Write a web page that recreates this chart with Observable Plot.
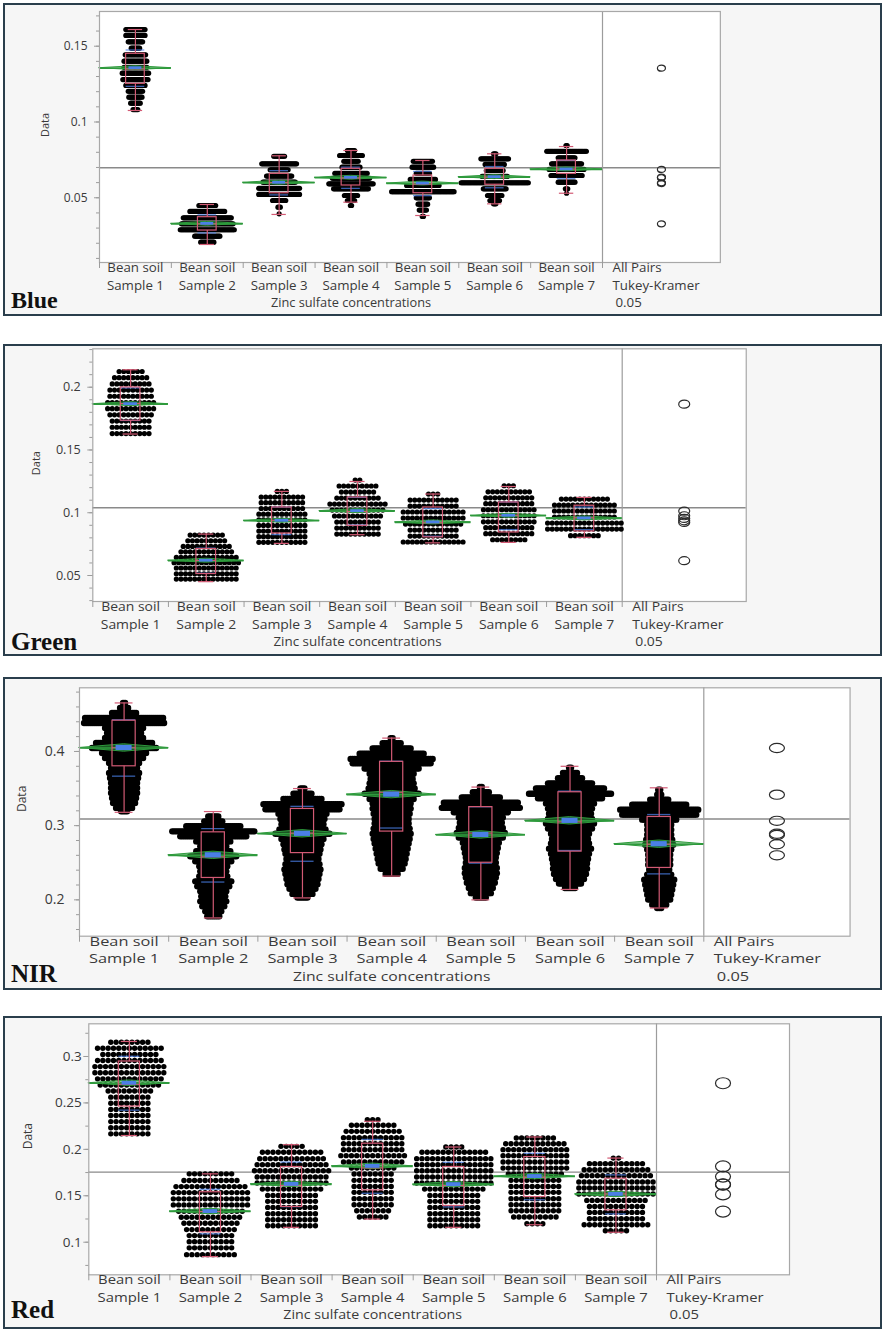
<!DOCTYPE html>
<html><head><meta charset="utf-8">
<script src="https://cdn.jsdelivr.net/npm/d3@7"></script>
<script src="https://cdn.jsdelivr.net/npm/@observablehq/plot@0.6"></script>
<style>
body{margin:0;background:#fff;}
#root{position:relative;width:886px;height:1332px;overflow:hidden;}
.panel{position:absolute;box-sizing:border-box;border:2px solid #2a3e4c;background:#f6f6f6;}
.plotbox{position:absolute;left:0;}
.tag{position:absolute;font-family:"Liberation Serif","Times New Roman",serif;font-weight:bold;color:#111;line-height:1;white-space:nowrap;}
</style></head><body><div id="root"></div>
<script>
// ---------- text ----------
const sampleLabels = ["Sample 1","Sample 2","Sample 3","Sample 4","Sample 5","Sample 6","Sample 7"];
const groupLine1 = "Bean soil";
const compLabels = ["All Pairs","Tukey-Kramer","0.05"];
const xTitle = "Zinc sulfate concentrations";
const yTitle = "Data";
const panelNames = ["Blue","Green","NIR","Red"];

// ---------- Blue ----------
const blueRows = [
 [[0.1610,17],[0.1571,17],[0.1529,13],[0.1487,8],[0.1443,18],[0.1401,20],[0.1361,20],[0.1322,23],[0.1280,22],[0.1241,17],[0.1203,13],[0.1164,12],[0.1124,9],[0.1082,5]],
 [[0.0449,15],[0.0410,30],[0.0368,41],[0.0328,44],[0.0289,46],[0.0247,22],[0.0207,12]],
 [[0.0774,10],[0.0724,30],[0.0685,16],[0.0643,22],[0.0603,28],[0.0563,35],[0.0522,35],[0.0482,12],[0.0438,3],[0.0394,1]],
 [[0.0812,7],[0.0779,20],[0.0741,13],[0.0702,16],[0.0662,28],[0.0629,32],[0.0592,38],[0.0559,30],[0.0515,12],[0.0482,7],[0.0449,2]],
 [[0.0741,17],[0.0702,19],[0.0662,12],[0.0621,22],[0.0581,28],[0.0540,53],[0.0500,12],[0.0458,9],[0.0419,7],[0.0377,2]],
 [[0.0790,3],[0.0757,24],[0.0720,17],[0.0680,15],[0.0641,22],[0.0599,57],[0.0559,20],[0.0515,13],[0.0482,9],[0.0460,3]],
 [[0.0845,2],[0.0807,34],[0.0764,15],[0.0724,26],[0.0687,30],[0.0647,27],[0.0603,15],[0.0559,3],[0.0530,1]]
];
const blueMean   = [0.1355,0.0328,0.0599,0.0632,0.0594,0.0636,0.0687];
const blueQ1     = [0.1252,0.0284,0.0530,0.0581,0.0530,0.0586,0.0658];
const blueQ3     = [0.1450,0.0372,0.0658,0.0691,0.0647,0.0691,0.0746];
const blueMedian = [0.1350,0.0328,0.0600,0.0630,0.0590,0.0636,0.0690];
const blueMin    = [0.1076,0.0192,0.0390,0.0471,0.0383,0.0460,0.0530];
const blueMax    = [0.1610,0.0456,0.0777,0.0812,0.0746,0.0790,0.0838];
const blueSD     = [0.012,0.006,0.008,0.007,0.008,0.007,0.006];
const blueCI     = [0.0013,0.0013,0.0013,0.0013,0.0013,0.0013,0.0013];
const blueGrand  = 0.0698;
const blueDomain = [0.0073,0.1729];
const blueTicks  = [0.05,0.1,0.15];
const blueMinor  = [0.01,0.02,0.03,0.04,0.05,0.06,0.07,0.08,0.09,0.1,0.11,0.12,0.13,0.14,0.15,0.16,0.17];

// ---------- Green ----------
const greenRows = [
 [[0.2125,6],[0.2076,8],[0.2026,9],[0.1977,10],[0.1928,10],[0.1878,11],[0.1829,11],[0.1780,10],[0.1730,9],[0.1681,9],[0.1631,9]],
 [[0.0822,8],[0.0777,9],[0.0732,11],[0.0689,12],[0.0644,14],[0.0602,15],[0.0560,14],[0.0514,14],[0.0472,14]],
 [[0.1170,3],[0.1125,10],[0.1080,10],[0.1034,10],[0.0989,11],[0.0944,11],[0.0899,11],[0.0854,11],[0.0809,11],[0.0764,11]],
 [[0.1260,2],[0.1213,9],[0.1165,8],[0.1117,10],[0.1069,13],[0.1021,12],[0.0974,11],[0.0926,10],[0.0878,10],[0.0830,10]],
 [[0.1149,3],[0.1101,11],[0.1053,11],[0.1006,14],[0.0958,14],[0.0910,13],[0.0862,11],[0.0814,11],[0.0767,14]],
 [[0.1215,3],[0.1167,10],[0.1119,11],[0.1072,11],[0.1024,12],[0.0976,12],[0.0928,12],[0.0881,11],[0.0833,11],[0.0785,8]],
 [[0.1109,11],[0.1061,14],[0.1014,14],[0.0966,14],[0.0918,17],[0.0870,17],[0.0817,7]]
];
const greenMean   = [0.1865,0.0618,0.0936,0.1013,0.0923,0.0976,0.0955];
const greenQ1     = [0.1733,0.0512,0.0835,0.0896,0.0804,0.0843,0.0851];
const greenQ3     = [0.1998,0.0711,0.1042,0.1122,0.1042,0.1082,0.1056];
const greenMedian = [0.1870,0.0620,0.0940,0.1010,0.0920,0.0980,0.0960];
const greenMin    = [0.1627,0.0451,0.0756,0.0825,0.0760,0.0764,0.0804];
const greenMax    = [0.2139,0.0830,0.1170,0.1249,0.1149,0.1209,0.1122];
const greenSD     = [0.013,0.010,0.011,0.011,0.011,0.011,0.009];
const greenCI     = [0.0016,0.0016,0.0016,0.0016,0.0016,0.0016,0.0016];
const greenGrand  = 0.104;
const greenDomain = [0.0293,0.2306];
const greenTicks  = [0.05,0.1,0.15,0.2];
const greenMinor  = [0.03,0.04,0.05,0.06,0.07,0.08,0.09,0.1,0.11,0.12,0.13,0.14,0.15,0.16,0.17,0.18,0.19,0.2,0.21,0.22,0.23];

// ---------- NIR ----------
const nirRows = [
 [[0.4654,2],[0.4586,5],[0.4519,13],[0.4451,40],[0.4384,41],[0.4317,20],[0.4249,18],[0.4182,20],[0.4115,29],[0.4047,33],[0.3980,23],[0.3912,20],[0.3845,16],[0.3778,14],[0.3710,16],[0.3643,15],[0.3575,14],[0.3508,14],[0.3441,14],[0.3373,13],[0.3306,12],[0.3239,9],[0.3193,4]],
 [[0.3125,6],[0.3058,10],[0.2991,28],[0.2923,42],[0.2856,34],[0.2788,18],[0.2721,14],[0.2654,18],[0.2586,24],[0.2519,19],[0.2452,15],[0.2384,14],[0.2317,15],[0.2249,19],[0.2182,17],[0.2115,14],[0.2047,13],[0.1980,14],[0.1912,12],[0.1845,9],[0.1778,7]],
 [[0.350,3],[0.343,10],[0.336,20],[0.329,40],[0.322,38],[0.316,25],[0.309,23],[0.302,22],[0.295,24],[0.289,28],[0.282,22],[0.275,20],[0.268,19],[0.262,18],[0.255,17],[0.248,18],[0.241,19],[0.235,18],[0.228,17],[0.221,16],[0.215,14],[0.208,11],[0.203,6]],
 [[0.418,2],[0.411,10],[0.404,20],[0.397,33],[0.390,42],[0.384,40],[0.377,28],[0.370,23],[0.363,22],[0.357,23],[0.350,24],[0.343,28],[0.336,23],[0.330,20],[0.323,20],[0.316,19],[0.309,18],[0.303,18],[0.296,19],[0.289,20],[0.282,19],[0.276,18],[0.269,17],[0.262,16],[0.255,15],[0.249,14],[0.242,12],[0.235,7]],
 [[0.352,2],[0.345,9],[0.338,20],[0.331,38],[0.324,40],[0.318,28],[0.311,23],[0.304,22],[0.297,23],[0.290,25],[0.284,23],[0.277,19],[0.270,18],[0.263,17],[0.257,16],[0.250,16],[0.243,17],[0.236,17],[0.230,16],[0.223,15],[0.216,13],[0.209,11],[0.203,6]],
 [[0.378,2],[0.371,8],[0.364,13],[0.357,23],[0.350,35],[0.343,42],[0.337,33],[0.330,25],[0.323,23],[0.316,22],[0.309,23],[0.303,25],[0.296,23],[0.289,20],[0.282,19],[0.276,20],[0.269,22],[0.262,20],[0.255,19],[0.249,18],[0.242,18],[0.235,17],[0.228,15],[0.222,12],[0.216,6]],
 [[0.3485,2],[0.3418,3],[0.3350,10],[0.3283,28],[0.3216,40],[0.3148,38],[0.3081,18],[0.3013,13],[0.2946,13],[0.2879,13],[0.2811,14],[0.2744,15],[0.2677,13],[0.2609,12],[0.2542,12],[0.2474,12],[0.2407,11],[0.2340,13],[0.2272,16],[0.2205,15],[0.2137,14],[0.2070,13],[0.2003,12],[0.1935,8],[0.1891,3]]
];
const nirMean   = [0.4047,0.2600,0.2890,0.3418,0.2875,0.3065,0.2750];
const nirQ1     = [0.3800,0.2295,0.2630,0.2920,0.2500,0.2650,0.2430];
const nirQ3     = [0.4415,0.2910,0.3225,0.3860,0.3250,0.3450,0.3117];
const nirMedian = [0.4050,0.2580,0.2900,0.3450,0.2900,0.3050,0.2750];
const nirMin    = [0.3180,0.1756,0.2026,0.2320,0.2000,0.2140,0.1890];
const nirMax    = [0.4654,0.3190,0.3500,0.4180,0.3520,0.3800,0.3510];
const nirSD     = [0.038,0.036,0.037,0.045,0.038,0.040,0.040];
const nirCI     = [0.005,0.005,0.005,0.005,0.005,0.005,0.005];
const nirGrand  = 0.309;
const nirDomain = [0.151,0.4858];
const nirTicks  = [0.2,0.3,0.4];
const nirMinor  = [0.16,0.18,0.2,0.22,0.24,0.26,0.28,0.3,0.32,0.34,0.36,0.38,0.4,0.42,0.44,0.46,0.48];

// ---------- Red ----------
const redRows = [
 [[0.3154,8],[0.3088,13],[0.3022,11],[0.2957,13],[0.2891,14],[0.2825,14],[0.2759,13],[0.2693,12],[0.2628,9],[0.2562,8],[0.2496,8],[0.2430,8],[0.2364,8],[0.2299,8],[0.2233,8],[0.2167,8]],
 [[0.1736,9],[0.1664,11],[0.1599,14],[0.1534,15],[0.1467,15],[0.1402,15],[0.1333,13],[0.1268,12],[0.1204,11],[0.1136,10],[0.1071,9],[0.1006,9],[0.0939,9],[0.0866,10]],
 [[0.2032,5],[0.1968,12],[0.1900,13],[0.1835,14],[0.1770,15],[0.1702,14],[0.1637,14],[0.1572,12],[0.1504,10],[0.1440,10],[0.1375,10],[0.1307,10],[0.1242,10],[0.1178,10]],
 [[0.2320,3],[0.2259,9],[0.2194,11],[0.2126,12],[0.2061,12],[0.1997,12],[0.1932,13],[0.1863,12],[0.1798,9],[0.1734,8],[0.1666,8],[0.1601,8],[0.1537,8],[0.1469,8],[0.1404,8],[0.1339,7],[0.1271,6]],
 [[0.2025,4],[0.1968,13],[0.1900,15],[0.1835,15],[0.1770,15],[0.1702,15],[0.1637,15],[0.1572,12],[0.1504,10],[0.1440,10],[0.1375,10],[0.1307,10],[0.1242,10],[0.1178,10]],
 [[0.2122,8],[0.2061,12],[0.1997,13],[0.1932,13],[0.1863,13],[0.1798,13],[0.1734,11],[0.1666,10],[0.1601,10],[0.1537,10],[0.1469,10],[0.1404,10],[0.1339,10],[0.1271,9],[0.1198,4]],
 [[0.1906,2],[0.1846,11],[0.1781,13],[0.1717,14],[0.1648,15],[0.1583,15],[0.1519,15],[0.1450,12],[0.1385,11],[0.1321,11],[0.1253,11],[0.1188,13],[0.1123,5]]
];
const redMean   = [0.2712,0.1330,0.1623,0.1817,0.1620,0.1707,0.1515];
const redQ1     = [0.2461,0.1107,0.1380,0.1558,0.1390,0.1486,0.1343];
const redQ3     = [0.2946,0.1538,0.1810,0.2061,0.1810,0.1917,0.1684];
const redMedian = [0.2700,0.1330,0.1610,0.1800,0.1610,0.1700,0.1520];
const redMin    = [0.2149,0.0845,0.1160,0.1249,0.1160,0.1188,0.1107];
const redMax    = [0.3162,0.1736,0.2050,0.2302,0.2025,0.2133,0.1906];
const redSD     = [0.029,0.024,0.024,0.029,0.024,0.025,0.021];
const redCI     = [0.003,0.003,0.003,0.003,0.003,0.003,0.003];
const redGrand  = 0.1755;
const redDomain = [0.0649,0.3352];
const redTicks  = [0.1,0.15,0.2,0.25,0.3];
const redMinor  = [0.075,0.1,0.125,0.15,0.175,0.2,0.225,0.25,0.275,0.3,0.325];

// ---------- layout / style (not data) ----------
const layouts = [
 {top:3,   height:313, left:99,   divider:602,   ft:11,     fb:262,    sx:1.04, tickFont:12,   dataX:45,   dataFont:11, gap:12, dotR:2.6, dotDx:1.2, circ:[4,3],     tagSize:24, tagTop:288},
 {top:344, height:312, left:92.3, divider:621.7, ft:348.3,  fb:601,    sx:1.09, tickFont:12.6, dataX:36,   dataFont:11, gap:12, dotR:2.6, dotDx:4.6, circ:[5.5,4],   tagSize:25, tagTop:629},
 {top:677, height:313, left:79,   divider:703.3, ft:687.3,  fb:935.7,  sx:1.28, tickFont:14,   dataX:21.7, dataFont:12, gap:15, dotR:3.2, dotDx:2.0, circ:[7.5,4.6], tagSize:25, tagTop:961},
 {top:1016,height:313, left:88.3, divider:656,   ft:1023.3, fb:1274.3, sx:1.16, tickFont:13.5, dataX:27.3, dataFont:12, gap:7,  dotR:2.7, dotDx:5.3, circ:[7.5,5.5], tagSize:25, tagTop:1297}
];
const CAT_FONT = 12.8;
const B1 = 13.5, B2 = 31.1, B3 = 48.7;
const COMP = 1.64;
const PINK = "#d25a74", GREEN = "#2e9a3c", BLUEMARK = "#4a7fe6", TXT = "#3a3a3a", AXIS = "#9c9c9c";

function ellipse(rx, ry) {
  const k = 0.5523;
  return {draw(c) {
    c.moveTo(rx, 0);
    c.bezierCurveTo(rx, k*ry, k*rx, ry, 0, ry);
    c.bezierCurveTo(-k*rx, ry, -rx, k*ry, -rx, 0);
    c.bezierCurveTo(-rx, -k*ry, -k*rx, -ry, 0, -ry);
    c.bezierCurveTo(k*rx, -ry, rx, -k*ry, rx, 0);
    c.closePath();
  }};
}

function drawPanel(cfg, d, name) {
  const slot = (cfg.divider - cfg.left) / 7;
  const right = cfg.divider + COMP * slot;
  const xMax = 7.5 + COMP;
  const step = cfg.dotDx / slot;
  const dots = [];
  d.rows.forEach((rows, gi) => rows.forEach(([v, n]) => {
    for (let k = 0; k < n; k++) dots.push({x: gi + 1 + (k - (n - 1) / 2) * step, y: v});
  }));
  const stats = d.mean.map((m, i) => ({g: i + 1, mean: m, q1: d.q1[i], q3: d.q3[i], med: d.median[i],
    min: d.min[i], max: d.max[i], sd: d.sd[i], ci: d.ci[i]}));
  const diamond = stats.flatMap(s => [
    {g: s.g, x: s.g - 0.5, y1: s.mean, y2: s.mean},
    {g: s.g, x: s.g, y1: s.mean - s.ci, y2: s.mean + s.ci},
    {g: s.g, x: s.g + 0.5, y1: s.mean, y2: s.mean}]);
  const sdLines = stats.flatMap(s => [{g: s.g, y: s.mean + s.sd}, {g: s.g, y: s.mean - s.sd}]);
  const bw = 0.13, cw = 0.1;
  const separators = d3.range(0, 8).map(i => i + 0.5);
  const circleX = 7.5 + COMP / 2;
  const fs = CAT_FONT;
  const mid = 0.32;

  const svg = Plot.plot({
    width: 886, height: cfg.height,
    marginLeft: cfg.left, marginRight: 886 - right,
    marginTop: cfg.ft - cfg.top, marginBottom: cfg.top + cfg.height - cfg.fb,
    x: {domain: [0.5, xMax]},
    y: {domain: d.domain},
    style: {fontFamily: '"Open Sans", sans-serif', background: "transparent", overflow: "visible"},
    marks: [
      Plot.frame({fill: "white", stroke: "none"}),
      Plot.ruleY([d.grand], {stroke: "#8a8a8a", strokeWidth: 1.4}),
      Plot.ruleX([7.5], {stroke: AXIS, strokeWidth: 1.2}),
      Plot.dot(dots, {x: "x", y: "y", r: cfg.dotR, fill: "#000", stroke: "none"}),
      Plot.areaY(diamond, {x: "x", y1: "y1", y2: "y2", z: "g", fill: GREEN, fillOpacity: 0.55, stroke: GREEN, strokeWidth: 1, curve: "linear"}),
      Plot.ruleY(stats, {y: "mean", x1: s => s.g - 0.5, x2: s => s.g + 0.5, stroke: GREEN, strokeWidth: 1.6}),
      Plot.ruleY(sdLines, {y: "y", x1: s => s.g - bw, x2: s => s.g + bw, stroke: BLUEMARK, strokeWidth: 1.3, strokeOpacity: 0.75}),
      Plot.rect(stats, {x1: s => s.g - bw, x2: s => s.g + bw, y1: "q1", y2: "q3", fill: "none", stroke: PINK, strokeWidth: 1.2}),
      Plot.ruleX(stats, {x: "g", y1: "min", y2: "q1", stroke: PINK, strokeWidth: 1.2}),
      Plot.ruleX(stats, {x: "g", y1: "q3", y2: "max", stroke: PINK, strokeWidth: 1.2}),
      Plot.ruleY(stats, {y: "max", x1: s => s.g - cw, x2: s => s.g + cw, stroke: PINK, strokeWidth: 1.2}),
      Plot.ruleY(stats, {y: "min", x1: s => s.g - cw, x2: s => s.g + cw, stroke: PINK, strokeWidth: 1.2}),
      Plot.ruleY(stats, {y: "med", x1: s => s.g - bw, x2: s => s.g + bw, stroke: PINK, strokeWidth: 1}),
      Plot.rect(stats, {x1: s => s.g - 0.09, x2: s => s.g + 0.09, y1: s => s.mean - s.ci * 0.7, y2: s => s.mean + s.ci * 0.7, fill: BLUEMARK}),
      Plot.dot(stats, {x: () => circleX, y: "mean", symbol: ellipse(cfg.circ[0], cfg.circ[1]), r: 4, fill: "none", stroke: "#2a2a2a", strokeWidth: 1.2}),
      Plot.frame({stroke: "#a8a8a8", strokeWidth: 1.2}),
      Plot.axisY(d.minor, {tickSize: 3, tickFormat: () => "", stroke: AXIS, label: null}),
      Plot.axisY(d.ticks, {tickSize: 5, tickFormat: () => "", stroke: AXIS, label: null}),
      Plot.axisY(d.ticks, {tickSize: 0, tickPadding: cfg.gap, tickFormat: v => String(v), fontSize: cfg.tickFont, color: TXT, label: null}),
      Plot.axisX(separators, {tickSize: 6, tickFormat: () => "", stroke: AXIS, label: null}),
      Plot.text([yTitle], {frameAnchor: "left", dx: cfg.dataX - cfg.left, rotate: -90, fontSize: cfg.dataFont, fill: TXT}),
      Plot.text(sampleLabels, {x: (s, i) => i + 1, text: () => groupLine1, frameAnchor: "bottom", dy: B1 - mid * fs, fontSize: fs, fill: TXT}),
      Plot.text(sampleLabels, {x: (s, i) => i + 1, text: s => s, frameAnchor: "bottom", dy: B2 - mid * fs, fontSize: fs, fill: TXT}),
      Plot.text([xTitle], {x: () => 4, frameAnchor: "bottom", dy: B3 - mid * fs, fontSize: fs * 0.96, fill: TXT}),
      Plot.text([compLabels[0]], {x: () => 7.5, frameAnchor: "bottom", textAnchor: "start", dx: 10, dy: B1 - mid * fs, fontSize: fs, fill: TXT}),
      Plot.text([compLabels[1]], {x: () => 7.5, frameAnchor: "bottom", textAnchor: "start", dx: 10, dy: B2 - mid * fs, fontSize: fs, fill: TXT}),
      Plot.text([compLabels[2]], {x: () => 7.5, frameAnchor: "bottom", textAnchor: "start", dx: 13, dy: B3 - mid * fs, fontSize: fs, fill: TXT})
    ]
  });

  // horizontal stretch of the bottom labels, matching the reference's per-panel aspect
  svg.querySelectorAll("text").forEach(t => {
    const g = t.closest("g[aria-label]");
    const lab = g ? g.getAttribute("aria-label") : "";
    if (lab && lab.includes("tick label")) return;
    const tr = t.getAttribute("transform");
    if (!tr || tr.includes("rotate")) return;
    if (t.textContent === yTitle) return;
    t.setAttribute("transform", tr + ` scale(${cfg.sx},1)`);
  });

  const root = document.getElementById("root");
  const p = document.createElement("div");
  p.className = "panel";
  p.style.left = "3px"; p.style.width = "879px";
  p.style.top = cfg.top + "px"; p.style.height = cfg.height + "px";
  root.appendChild(p);
  const box = document.createElement("div");
  box.className = "plotbox";
  box.style.top = cfg.top + "px";
  box.appendChild(svg);
  root.appendChild(box);
  const tag = document.createElement("div");
  tag.className = "tag";
  tag.textContent = name;
  tag.style.left = "11px";
  tag.style.top = cfg.tagTop + "px";
  tag.style.fontSize = cfg.tagSize + "px";
  root.appendChild(tag);
}

const panels = [
 {rows: blueRows, mean: blueMean, q1: blueQ1, q3: blueQ3, median: blueMedian, min: blueMin, max: blueMax, sd: blueSD, ci: blueCI, grand: blueGrand, domain: blueDomain, ticks: blueTicks, minor: blueMinor},
 {rows: greenRows, mean: greenMean, q1: greenQ1, q3: greenQ3, median: greenMedian, min: greenMin, max: greenMax, sd: greenSD, ci: greenCI, grand: greenGrand, domain: greenDomain, ticks: greenTicks, minor: greenMinor},
 {rows: nirRows, mean: nirMean, q1: nirQ1, q3: nirQ3, median: nirMedian, min: nirMin, max: nirMax, sd: nirSD, ci: nirCI, grand: nirGrand, domain: nirDomain, ticks: nirTicks, minor: nirMinor},
 {rows: redRows, mean: redMean, q1: redQ1, q3: redQ3, median: redMedian, min: redMin, max: redMax, sd: redSD, ci: redCI, grand: redGrand, domain: redDomain, ticks: redTicks, minor: redMinor}
];
panels.forEach((d, i) => drawPanel(layouts[i], d, panelNames[i]));
</script>
</body></html>
